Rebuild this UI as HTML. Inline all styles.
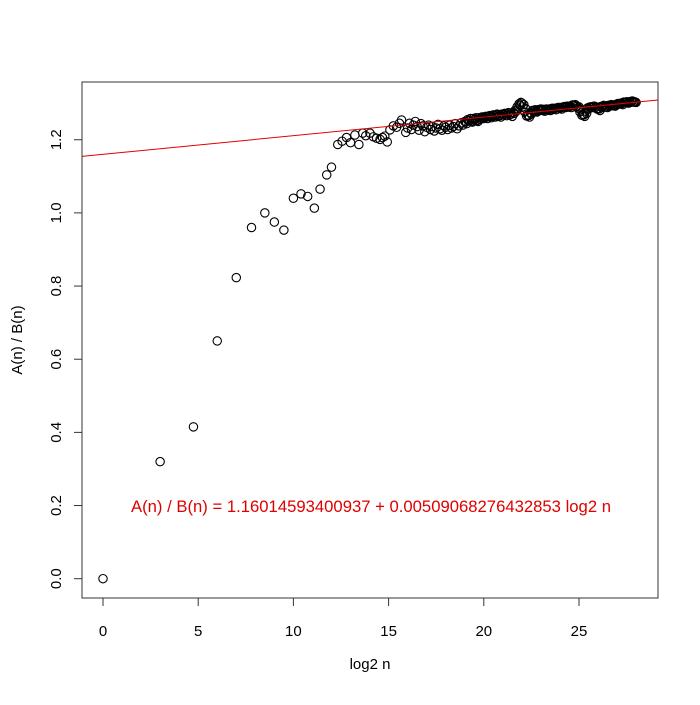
<!DOCTYPE html>
<html><head><meta charset="utf-8"><style>
html,body{margin:0;padding:0;background:#fff;}
svg text{font-family:"Liberation Sans",sans-serif;}
</style></head><body>
<svg id="chart" width="700" height="700" viewBox="0 0 700 700" xmlns="http://www.w3.org/2000/svg">
<rect x="0" y="0" width="700" height="700" fill="#fff"/>
<g id="marks"></g>
<g id="axes"></g>
<rect x="82" y="82" width="576" height="516" fill="none" stroke="#333" stroke-width="1"/>
<text x="370" y="669" font-size="15" text-anchor="middle">log2 n</text>
<text x="0" y="0" font-size="15" text-anchor="middle" transform="translate(22,340) rotate(-90)">A(n) / B(n)</text>
<text x="371" y="512" font-size="16.5" fill="#e00000" text-anchor="middle" textLength="480" lengthAdjust="spacingAndGlyphs">A(n) / B(n) = 1.16014593400937 + 0.00509068276432853 log2 n</text>
</svg>
<script>
const xVals = [0,3,4.75,6,7,7.8,8.5,9.0,9.5,10,10.4,10.75,11.1,11.4,11.75,12,
12.33,12.56,12.79,13.0,13.23,13.44,13.64,13.8,14.02,14.2,14.37,14.55,14.68,14.8,14.93,15.07,15.25,15.42,15.57,15.68,15.9,
16.0,16.1,16.2,16.3,16.4,16.5,16.6,16.7,16.8,16.9,17.0,
17.1,17.2,17.3,17.4,17.5,17.6,17.7,17.8,17.9,18.0,
18.1,18.2,18.3,18.4,18.5,18.6,18.7,18.8,18.9,19.0,
19.1,19.2,19.3,19.4,19.5,19.6,19.7,19.8,19.9,20.0,
20.1,20.2,20.3,20.4,20.5,20.6,20.7,20.8,20.9,21.0,
21.1,21.2,21.3,21.4,21.5,21.6,21.7,21.8,21.9,22.0,
22.1,22.2,22.3,22.4,22.5,22.6,22.7,22.8,22.9,23.0,
23.1,23.2,23.3,23.4,23.5,23.6,23.7,23.8,23.9,24.0,
24.1,24.2,24.3,24.4,24.5,24.6,24.7,24.8,24.9,25.0,
25.1,25.2,25.3,25.4,25.5,25.6,25.7,25.8,25.9,26.0,
26.1,26.2,26.3,26.4,26.5,26.6,26.7,26.8,26.9,27.0,
27.1,27.2,27.3,27.4,27.5,27.6,27.7,27.8,27.9,28.0,
19.05,19.15,19.25,19.35,19.45,19.55,19.65,19.75,19.85,19.95,
20.05,20.15,20.25,20.35,20.45,20.55,20.65,20.75,20.85,20.95,
21.05,21.15,21.25,21.35,21.45,21.55,21.65,21.75,21.85,21.95,
22.05,22.15,22.25,22.35,22.45,22.55,22.65,22.75,22.85,22.95,
23.05,23.15,23.25,23.35,23.45,23.55,23.65,23.75,23.85,23.95,
24.05,24.15,24.25,24.35,24.45,24.55,24.65,24.75,24.85,24.95,
25.05,25.15,25.25,25.35,25.45,25.55,25.65,25.75,25.85,25.95,
26.05,26.15,26.25,26.35,26.45,26.55,26.65,26.75,26.85,26.95,
27.05,27.15,27.25,27.35,27.45,27.55,27.65,27.75,27.85,27.95];
const yVals = [0,0.32,0.415,0.65,0.823,0.96,1.0,0.975,0.953,1.04,1.052,1.045,1.013,1.065,1.104,1.125,
1.187,1.196,1.206,1.192,1.213,1.187,1.218,1.211,1.218,1.208,1.204,1.201,1.206,1.21,1.194,1.227,1.238,1.234,1.245,1.254,1.22,
1.232,1.245,1.228,1.240,1.250,1.236,1.226,1.244,1.238,1.222,1.234,
1.240,1.228,1.236,1.224,1.232,1.242,1.230,1.226,1.238,1.234,
1.228,1.240,1.232,1.236,1.244,1.230,1.238,1.246,1.240,1.250,
1.244,1.252,1.258,1.248,1.254,1.260,1.250,1.256,1.262,1.258,
1.264,1.258,1.266,1.260,1.268,1.262,1.270,1.266,1.262,1.268,
1.272,1.266,1.274,1.270,1.264,1.272,1.278,1.284,1.294,1.300,
1.296,1.285,1.268,1.262,1.270,1.278,1.282,1.276,1.280,1.284,
1.280,1.278,1.284,1.282,1.280,1.286,1.284,1.282,1.288,1.286,
1.284,1.290,1.288,1.292,1.290,1.288,1.294,1.296,1.292,1.290,
1.282,1.270,1.264,1.272,1.284,1.290,1.288,1.292,1.290,1.286,
1.280,1.288,1.294,1.290,1.288,1.292,1.296,1.294,1.292,1.296,
1.298,1.300,1.296,1.302,1.304,1.300,1.302,1.306,1.304,1.302,
1.248,1.255,1.252,1.250,1.258,1.256,1.253,1.260,1.259,1.262,
1.260,1.262,1.263,1.265,1.264,1.266,1.268,1.264,1.266,1.270,
1.269,1.270,1.271,1.268,1.270,1.275,1.281,1.290,1.298,1.302,
1.290,1.276,1.265,1.266,1.274,1.280,1.279,1.278,1.282,1.283,
1.281,1.283,1.283,1.281,1.284,1.285,1.283,1.286,1.287,1.288,
1.288,1.289,1.291,1.291,1.289,1.292,1.295,1.294,1.291,1.286,
1.276,1.267,1.268,1.278,1.287,1.289,1.290,1.291,1.288,1.284,
1.284,1.291,1.292,1.289,1.290,1.294,1.295,1.293,1.294,1.297,
1.299,1.298,1.299,1.303,1.302,1.301,1.304,1.305,1.303,1.303];
const xTicks = [0,5,10,15,20,25];
const yTicks = [0.0,0.2,0.4,0.6,0.8,1.0,1.2];
const yTickLabels = ["0.0","0.2","0.4","0.6","0.8","1.0","1.2"];
const fitIntercept = 1.16014593400937;
const fitSlope = 0.00509068276432853;

const NS = "http://www.w3.org/2000/svg";
function sx(v){ return 103 + v * 19.04; }
function sy(v){ return 578.7 - v * 365.8; }
const X0 = 82, X1 = 658, Y0 = 82, Y1 = 598;

const marks = document.getElementById('marks');
for (let i = 0; i < xVals.length; i++) {
  const c = document.createElementNS(NS, 'circle');
  c.setAttribute('cx', sx(xVals[i]));
  c.setAttribute('cy', sy(yVals[i]));
  c.setAttribute('r', 4.2);
  c.setAttribute('fill', 'none');
  c.setAttribute('stroke', '#000');
  c.setAttribute('stroke-width', '1.1');
  
  
  marks.appendChild(c);
}
const xa = (X0 - 103) / 19.04, xb = (X1 - 103) / 19.04;
const ln = document.createElementNS(NS, 'line');
ln.setAttribute('x1', X0);
ln.setAttribute('y1', sy(fitIntercept + fitSlope * xa));
ln.setAttribute('x2', X1);
ln.setAttribute('y2', sy(fitIntercept + fitSlope * xb));
ln.setAttribute('stroke', '#e00000');
ln.setAttribute('stroke-width', '1');


marks.appendChild(ln);

const axes = document.getElementById('axes');
const xaxis = document.createElementNS(NS, 'line');
xaxis.setAttribute('x1', sx(xTicks[0])); xaxis.setAttribute('x2', sx(xTicks[xTicks.length-1]));
xaxis.setAttribute('y1', Y1); xaxis.setAttribute('y2', Y1);
xaxis.setAttribute('stroke', '#333');


axes.appendChild(xaxis);
xTicks.forEach(function(t){
  const tk = document.createElementNS(NS, 'line');
  tk.setAttribute('x1', sx(t)); tk.setAttribute('x2', sx(t));
  tk.setAttribute('y1', Y1); tk.setAttribute('y2', Y1 + 8);
  tk.setAttribute('stroke', '#333');
  
  
  axes.appendChild(tk);
  const tx = document.createElementNS(NS, 'text');
  tx.setAttribute('x', sx(t)); tx.setAttribute('y', 636);
  tx.setAttribute('font-size', '15'); tx.setAttribute('text-anchor', 'middle');
  tx.textContent = String(t);
  
  
  axes.appendChild(tx);
});
const yaxis = document.createElementNS(NS, 'line');
yaxis.setAttribute('x1', X0); yaxis.setAttribute('x2', X0);
yaxis.setAttribute('y1', sy(yTicks[0])); yaxis.setAttribute('y2', sy(yTicks[yTicks.length-1]));
yaxis.setAttribute('stroke', '#333');


axes.appendChild(yaxis);
yTicks.forEach(function(t, i){
  const tk = document.createElementNS(NS, 'line');
  tk.setAttribute('x1', X0 - 8); tk.setAttribute('x2', X0);
  tk.setAttribute('y1', sy(t)); tk.setAttribute('y2', sy(t));
  tk.setAttribute('stroke', '#333');
  
  
  axes.appendChild(tk);
  const tx = document.createElementNS(NS, 'text');
  tx.setAttribute('x', 0); tx.setAttribute('y', 0);
  tx.setAttribute('font-size', '15'); tx.setAttribute('text-anchor', 'middle');
  tx.setAttribute('transform', 'translate(61,' + sy(t) + ') rotate(-90)');
  tx.textContent = yTickLabels[i];
  
  
  axes.appendChild(tx);
});
</script>
</body></html>
